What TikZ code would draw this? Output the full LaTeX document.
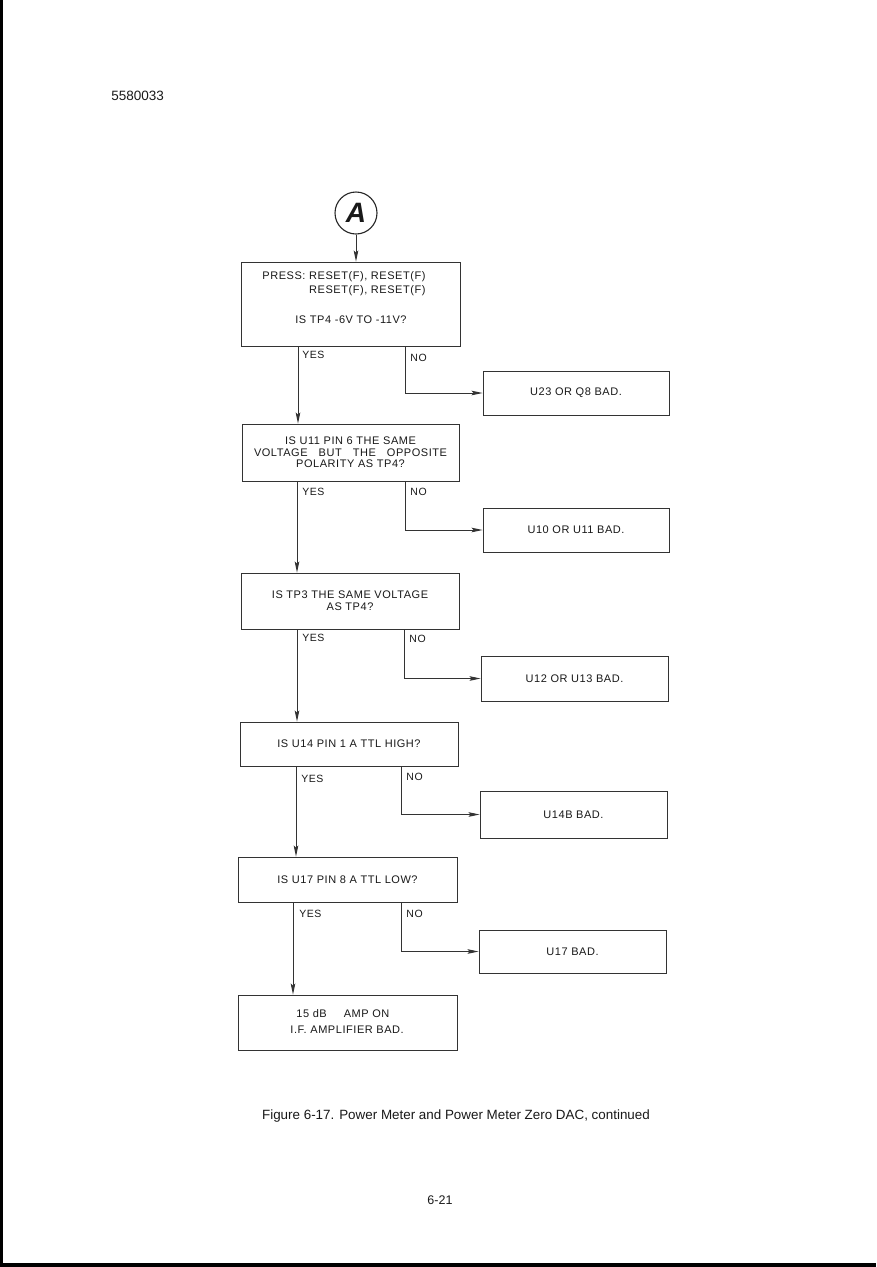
\documentclass[tikz,border=0pt]{standalone}
\usepackage{fontspec}
\setmainfont{Liberation Sans}
\newfontfamily\chartfont[LetterSpace=5]{Liberation Sans}
\usetikzlibrary{arrows.meta,calc}
\begin{document}
\begin{tikzpicture}[x=1pt,y=-1pt,
  line width=0.9pt,
  every node/.style={font=\chartfont\fontsize{11}{13}\selectfont, text=black!90},
  box/.style={draw=black!80, rectangle, inner sep=0pt, align=center},
  arr/.style={draw=black!80, -{Stealth[length=11pt,width=4.6pt,inset=2pt]}},
  lbl/.style={anchor=west, inner sep=0pt, font=\chartfont\fontsize{10.5}{12}\selectfont}]
\useasboundingbox (0,0) rectangle (876,1267);
\fill[white] (0,0) rectangle (876,1267);
% page edges from the scan
\fill[black] (0,0) rectangle (3,1267);
\fill[black] (0,1263) rectangle (876,1267);

\node[anchor=west, inner sep=0pt, font=\fontsize{13.5}{15}\selectfont] (docno) at (111,96) {5580033};

% connector A
\node[draw=black!85, circle, line width=1.1pt, minimum size=42pt, inner sep=0pt,
      font=\fontsize{28}{28}\selectfont\bfseries\itshape] (A) at (356,213) {A};

% decision boxes
\node[box, minimum width=219pt, minimum height=84pt] (b1) at (350.5,304) {};
\node[anchor=north west, inner sep=0pt, align=left] (t1a) at (262,271)
  {PRESS: RESET(F), RESET(F)\\[1pt] \phantom{PRESS: }RESET(F), RESET(F)};
\node[inner sep=0pt] (t1b) at (351,320) {IS TP4 -6V TO -11V?};

\node[box, minimum width=217pt, minimum height=57pt] (b2) at (350.5,452.5)
  {IS U11 PIN 6 THE SAME\\[-1.5pt] \makebox[193pt][s]{VOLTAGE\hfill BUT\hfill THE\hfill OPPOSITE}\\[-1.5pt] POLARITY AS TP4?};

\node[box, minimum width=218pt, minimum height=56pt] (b3) at (350,601)
  {IS TP3 THE SAME VOLTAGE\\[-1pt] AS TP4?};

\node[box, minimum width=218pt, minimum height=44pt] (b4) at (349,744)
  {IS U14 PIN 1 A TTL HIGH?};

\node[box, minimum width=219pt, minimum height=45pt] (b5) at (347.5,879.5)
  {IS U17 PIN 8 A TTL LOW?};

\node[box, minimum width=219pt, minimum height=55pt] (b6) at (347.5,1022.5) {};
\node[anchor=west, inner sep=0pt] (t6a) at (296,1014) {15 dB\hspace{17pt}AMP ON};
\node[anchor=west, inner sep=0pt] (t6b) at (290,1030) {I.F. AMPLIFIER BAD.};

% result boxes
\node[box, minimum width=186pt, minimum height=44pt] (n1) at (576,393) {U23 OR Q8 BAD.};
\node[box, minimum width=186pt, minimum height=44pt] (n2) at (576,530) {U10 OR U11 BAD.};
\node[box, minimum width=187pt, minimum height=45pt] (n3) at (574.5,678.5) {U12 OR U13 BAD.};
\node[box, minimum width=187pt, minimum height=47pt] (n4) at (573.5,814.5) {U14B BAD.};
\node[box, minimum width=187pt, minimum height=43pt] (n5) at (572.5,951.5) {U17 BAD.};

% connectors
\draw[arr] (A.south) -- (b1.north -| A.south);

\draw[arr] ([xshift=-52.5pt]b1.south) -- ([xshift=-52.5pt]b1.south |- b2.north);
\draw[arr] ([xshift=54.5pt]b1.south) |- (n1.west);
\node[lbl] (y1) at (302,355) {YES};
\node[lbl] (no1) at (410,358) {NO};

\draw[arr] ([xshift=-53.5pt]b2.south) -- ([xshift=-53.5pt]b2.south |- b3.north);
\draw[arr] ([xshift=54.5pt]b2.south) |- (n2.west);
\node[lbl] (y2) at (302,492) {YES};
\node[lbl] (no2) at (410,492) {NO};

\draw[arr] ([xshift=-53pt]b3.south) -- ([xshift=-53pt]b3.south |- b4.north);
\draw[arr] ([xshift=54pt]b3.south) |- (n3.west);
\node[lbl] (y3) at (302,638) {YES};
\node[lbl] (no3) at (409,639) {NO};

\draw[arr] ([xshift=-53pt]b4.south) -- ([xshift=-53pt]b4.south |- b5.north);
\draw[arr] ([xshift=52pt]b4.south) |- (n4.west);
\node[lbl] (y4) at (301,779) {YES};
\node[lbl] (no4) at (406,777) {NO};

\draw[arr] ([xshift=-54.5pt]b5.south) -- ([xshift=-54.5pt]b5.south |- b6.north);
\draw[arr] ([xshift=53.5pt]b5.south) |- (n5.west);
\node[lbl] (y5) at (299,914) {YES};
\node[lbl] (no5) at (406,914) {NO};

% caption and page number
\node[font=\fontsize{13.4}{15}\selectfont, inner sep=0pt] (cap) at (456,1116)
  {Figure 6-17. Power Meter and Power Meter Zero DAC, continued};
\node[font=\fontsize{12.5}{14}\selectfont, inner sep=0pt] (pg) at (440,1200) {6-21};
\end{tikzpicture}
\end{document}
